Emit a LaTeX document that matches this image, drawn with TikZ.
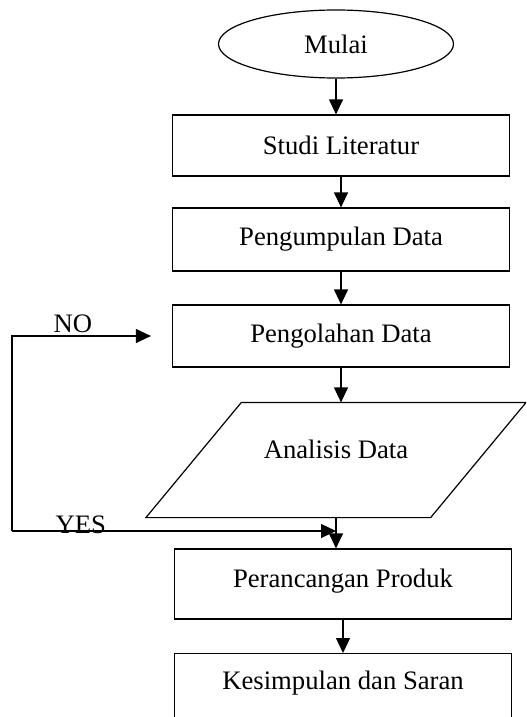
\documentclass[tikz,border=0pt]{standalone}
\usepackage{fontspec}
\setmainfont{Liberation Serif}
\usetikzlibrary{shapes.geometric,arrows.meta}

\begin{document}
\begin{tikzpicture}[x=0.75pt,y=-0.75pt]
        \tikzstyle{every node}=[font=\fontsize{20}{24}\selectfont, line width=0.9pt]
        \tikzstyle{box}=[draw, rectangle, minimum width=252.75pt, minimum height=46.5pt]
        \tikzstyle{tag}=[inner sep=0pt, anchor=base west]
        \tikzstyle{arrow}=[line width=0.9pt, -{Triangle[width=10.5pt,length=11.25pt]}]
        \useasboundingbox (0,0) rectangle (526,717);
        \clip (0,0) rectangle (526,717);
        \node[draw, ellipse, minimum width=176.25pt, minimum height=51pt] (mulai) at (336,44) {Mulai};
        \node[box, minimum height=45.75pt] (studi) at (341,145.5) {Studi Literatur};
        \node[box, minimum height=47.25pt] (kumpul) at (341,239.5) {Pengumpulan Data};
        \node[box] (olah) at (341,336) {Pengolahan Data};
        \node[minimum width=284.25pt, minimum height=85.5pt, text depth=16pt] (analisis) at (336,460) {Analisis Data};
        \draw[line width=0.9pt] ([xshift=71.6pt]analisis.north west) -- (analisis.north east)
            -- ([xshift=-71.6pt]analisis.south east) -- (analisis.south west) -- cycle;
        \node[box, minimum height=52.5pt, text depth=9pt] (rancang) at (343,584) {Perancangan Produk};
        \node[box, anchor=north, minimum height=60pt, text depth=19.5pt] (simpul) at (343,653) {Kesimpulan dan Saran};
        \node[tag] (no) at (53,332) {NO};
        \node[tag] (yes) at (55,533) {YES};
        \coordinate (balik) at (12,531);
        \draw[arrow] (mulai.south) -- (mulai.south |- studi.north);
        \draw[arrow] (studi) -- (kumpul);
        \draw[arrow] (kumpul) -- (olah);
        \draw[arrow] (olah.south) -- (olah.south |- analisis.north);
        \draw[arrow] (analisis.south) -- (analisis.south |- rancang.north);
        \draw[arrow] (rancang) -- (simpul);
        \draw[arrow] (balik) |- ([xshift=-15.75pt]olah.west);
        \draw[arrow] (balik) -- (balik -| analisis.south);
    \end{tikzpicture}
\end{document}
